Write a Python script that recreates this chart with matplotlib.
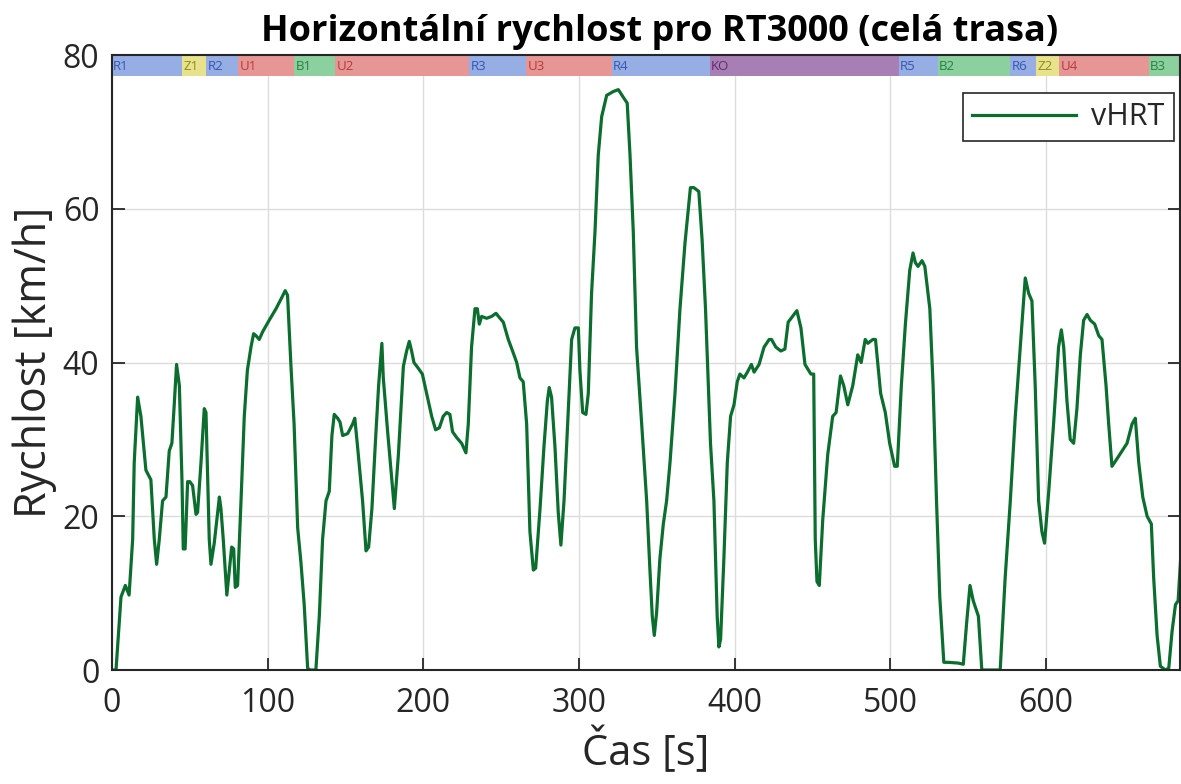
"""Horizontal speed of the RT3000 over the whole route, with the route segments as a band on top."""

import matplotlib

matplotlib.use("Agg")
import matplotlib.pyplot as plt

# time [s] and horizontal speed [km/h]
T_S = [
    0, 2.6, 5.8, 8.6, 11, 13.3, 14.3, 16.5, 18.6, 21.8, 25, 27.2, 28.7, 30.4, 32.5, 34.7,
    36.8, 38.5, 40, 41.5, 43.3, 45, 45.8, 47, 48.6, 50, 51.8, 54, 55, 57.2, 59.3, 60.4,
    62.5, 63.6, 65.7, 69, 70, 71.5, 73.8, 75.4, 76.9, 78.2, 79.2, 80.7, 82.9, 85, 87,
    89.3, 91, 92.5, 94.6, 96.8, 101, 105.4, 108.6, 111.3, 112.8, 115, 117, 119.3, 121.4,
    123.5, 125.7, 127.2, 131, 133.2, 135.3, 137.5, 139.6, 141.3, 142.8, 145, 146.5, 148.2,
    151.4, 154.6, 156, 157.8, 161, 163.2, 164.9, 167, 169.2, 171.3, 173.4, 174.3, 177.1,
    179.9, 181.4, 184, 187.2, 189.3, 191, 192.5, 194, 196.8, 199.4, 202.1, 205.4, 207.9,
    210.3, 212.8, 215, 217.1, 218.8, 221.4, 224.6, 227.4, 228.9, 231, 233.2, 234.7, 236,
    237.5, 240.7, 243.9, 246.7, 249.3, 251.4, 254.6, 257.8, 260, 262.1, 264.2, 266.4,
    268.5, 270.7, 272.2, 275, 277.5, 279.7, 280.9, 282.4, 284.6, 286.7, 288.4, 290.4,
    292.7, 295.3, 297.4, 299.6, 300.6, 302.4, 304.5, 306, 308.1, 310.3, 312.4, 314.6,
    317.8, 322, 325.3, 328.5, 331, 332.8, 334.9, 337, 340.3, 343.5, 345.6, 347.1, 348.4,
    349.9, 352, 354.2, 356.3, 358.5, 361.7, 364.9, 368.1, 371.6, 373.8, 377, 379.1, 381.3,
    384.5, 386.7, 388.8, 389.9, 391, 393.1, 395.3, 397.4, 399.6, 401.7, 403.4, 406, 408.2,
    410.8, 412.5, 415.7, 418.9, 422.2, 423.7, 426.5, 429.7, 432.3, 434.4, 437.2, 440,
    442.6, 445.2, 449, 450.8, 451.8, 452.9, 454.4, 456.6, 459.8, 463, 465.2, 468, 470.1,
    472.7, 475.9, 479.1, 481.3, 483.9, 485.6, 488.8, 490.5, 493.8, 496.8, 499.6, 502.8,
    504.5, 507.1, 509.7, 512.5, 514.6, 516.1, 517.8, 520.4, 522.2, 525.4, 527.5, 529.7,
    531.8, 534.4, 537.2, 543.7, 546.9, 549, 551.2, 553.3, 556.6, 558.8, 570.6, 573.8,
    577.1, 580.3, 583.5, 586.7, 588.9, 591, 593.1, 595.3, 597.4, 599.1, 601.7, 604.9,
    608.1, 609.9, 611.4, 613.5, 615.6, 617.8, 619.9, 622.1, 624.2, 626.4, 628.5, 631.3,
    633.9, 636, 638.6, 640.3, 642.4, 645.7, 648.9, 652.1, 655.3, 657.4, 659.6, 662.2, 665,
    667.7, 669.2, 671.4, 673.5, 676.7, 678.9, 681, 683.2, 684.9, 687,
]
V_KMH = [
    0, 0, 9.5, 11, 9.75, 17, 27, 35.5, 33, 26, 24.75, 17, 13.75, 17, 22, 22.5,
    28.5, 29.5, 34.5, 39.75, 37, 24.5, 15.75, 15.75, 24.5, 24.5, 24, 20.25, 20.5, 27, 34, 33.5,
    17, 13.75, 16.5, 22.5, 21, 17, 9.75, 13, 16, 15.75, 10.75, 11, 22, 33, 39,
    42, 43.75, 43.5, 43, 44, 45.5, 47, 48.25, 49.35, 48.75, 39.5, 32, 18.5, 14,
    8.5, 0.25, 0, 0, 7, 17, 22, 23.25, 30.5, 33.25, 32.75, 32.25, 30.5,
    30.75, 32, 32.75, 29, 22, 15.5, 16, 21, 29.5, 37, 42.5, 38, 31,
    24.5, 21, 28, 39.5, 41.5, 42.75, 41.5, 40, 39.25, 38.5, 36, 33, 31.25,
    31.5, 33, 33.5, 33.25, 31, 30.25, 29.5, 28.25, 32, 42, 47, 47, 45,
    46, 45.75, 46, 46.4, 45.75, 45.25, 43, 41.25, 40, 38, 37.5, 32,
    18, 13, 13.25, 21, 29, 35, 36.75, 35.5, 29, 20.5, 16.25, 22,
    32, 43, 44.5, 44.5, 39, 33.5, 33.25, 36, 49, 57, 67, 72,
    74.75, 75.25, 75.5, 74.5, 73.75, 67, 57, 42, 32, 22, 13, 7, 4.5,
    7.5, 14.5, 19, 22, 27, 36, 47, 55.5, 62.75, 62.75, 62.25, 56, 47,
    29.5, 22, 7, 3, 4, 14.5, 27, 33, 34.5, 37.5, 38.5, 38, 38.75,
    39.75, 38.75, 39.75, 42, 43, 43, 42, 41.5, 41.75, 45.25, 46, 46.75,
    44.5, 39.75, 38.5, 38.5, 17, 11.5, 11, 19.5, 28, 33, 33.5, 38.25, 37,
    34.5, 37, 41, 40, 43, 42.5, 43, 43, 36, 33.5, 29.5, 26.5,
    26.5, 37, 45, 52, 54.25, 53, 52.5, 53.25, 52.5, 47, 37, 22,
    9.5, 1, 1, 0.9, 0.75, 6, 11, 9, 7, 0, 0, 12,
    22, 33, 42, 51, 49, 48, 37, 22, 18, 16.5, 23, 32,
    42, 44.25, 42, 35, 30, 29.5, 34, 41, 45.5, 46.25, 45.5, 45,
    43.5, 43, 37, 32, 26.5, 27.5, 28.5, 29.5, 32, 32.75, 27, 22.5, 20,
    19, 12, 4.5, 0.5, 0, 0.25, 5, 8.5, 9, 16,
]

# route segments: label, start time [s], segment type
SEG_LABELS = ["R1", "Z1", "R2", "U1", "B1", "U2", "R3", "U3", "R4", "KO",
              "R5", "B2", "R6", "Z2", "U4", "B3"]
SEG_START = [0, 45, 60.5, 81, 117, 143.4, 229.6, 266, 321, 384,
             505.5, 530.5, 577, 593.6, 608.4, 666]
ROUTE_END = 687
T_MAX = 686

# fill / text colour per segment type (first letter of the label)
SEG_FILL = {"R": "#96aee4", "Z": "#e8e28c", "U": "#e79696", "B": "#8cd0a0", "K": "#a87fb4"}
SEG_TEXT = {"R": "#3556b0", "Z": "#8c8a1c", "U": "#b53a3a", "B": "#23803e", "K": "#5e2a72"}

FONT = ["Open Sans", "DejaVu Sans"]
LINE_COLOR = "#0b6e2e"
AX_COLOR = "#262626"


def main() -> None:
    plt.rcParams["font.family"] = FONT
    fig = plt.figure(figsize=(11.81, 7.84), dpi=100)
    ax = fig.add_axes([0.0948, 0.1454, 0.9042, 0.7844])

    # segment band along the top of the axes
    band_lo, band_hi = 77.25, 80
    ends = SEG_START[1:] + [ROUTE_END]
    for label, start, end in zip(SEG_LABELS, SEG_START, ends):
        kind = label[0]
        ax.bar(start, band_hi - band_lo, width=end - start, bottom=band_lo, align="edge",
               color=SEG_FILL[kind], edgecolor="none", zorder=1)
        ax.text(start + 0.8, (band_lo + band_hi) / 2 - 0.15, label, fontsize=9.5,
                color=SEG_TEXT[kind], ha="left", va="center", zorder=3)

    ax.plot(T_S, V_KMH, color=LINE_COLOR, linewidth=2.3, label="vHRT", zorder=2)

    ax.set_xlim(0, T_MAX)
    ax.set_ylim(0, 80)
    ax.set_xticks([0, 100, 200, 300, 400, 500, 600])
    ax.set_yticks([0, 20, 40, 60, 80])
    ax.grid(True, color="#dcdcdc", linewidth=1.0, zorder=0)
    ax.set_axisbelow(True)

    ax.tick_params(direction="in", length=9, width=1.3, colors=AX_COLOR,
                   labelsize=23, top=True, right=True)
    ax.tick_params(axis="x", pad=12)
    ax.tick_params(axis="y", pad=9)
    for spine in ax.spines.values():
        spine.set_color(AX_COLOR)
        spine.set_linewidth(1.5)
        spine.set_zorder(4)

    ax.set_xlabel("Čas [s]", fontsize=30, color=AX_COLOR, labelpad=6)
    ax.set_ylabel("Rychlost [km/h]", fontsize=31, color=AX_COLOR, labelpad=4)
    ax.set_title("Horizontální rychlost pro RT3000 (celá trasa)", fontsize=26,
                 fontweight="bold", color="black", pad=10, x=0.513)

    leg = ax.legend(loc="upper right", bbox_to_anchor=(0.9944, 0.938), borderaxespad=0,
                    fontsize=22, frameon=True, fancybox=False, framealpha=1,
                    handlelength=3.4, borderpad=0.3, handletextpad=0.5)
    leg.get_frame().set_edgecolor(AX_COLOR)
    leg.get_frame().set_linewidth(1.2)
    for text in leg.get_texts():
        text.set_color(AX_COLOR)

    fig.savefig("out.png", dpi=100)
    plt.close(fig)


if __name__ == "__main__":
    main()
